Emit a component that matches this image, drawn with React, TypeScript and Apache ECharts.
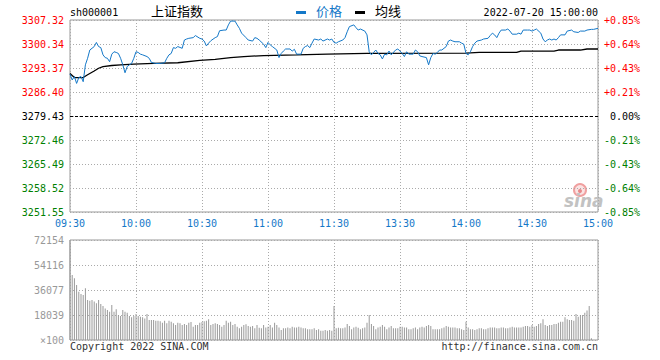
import React, { useEffect, useRef } from 'react';
import * as echarts from 'echarts';

const timeLabels = ['09:30', '10:00', '10:30', '11:00', '11:30', '13:30', '14:00', '14:30', '15:00'];
const priceTicks = ['3251.55', '3258.52', '3265.49', '3272.46', '3279.43', '3286.40', '3293.37', '3300.34', '3307.32'];
const pctTicks = ['-0.85%', '-0.64%', '-0.43%', '-0.21%', '0.00%', '+0.21%', '+0.43%', '+0.64%', '+0.85%'];
const volTicks = ['×100', '18039', '36077', '54116', '72154'];
const prevClose = 3279.43;
const volMax = 72154;

// [minute from 09:30, price]
const pricePoints: [number, number][] = [
  [0, 3291.6], [1, 3289.9], [2, 3290.9], [3, 3288.9], [4, 3290.6], [5, 3290.9], [6, 3289.4], [7, 3294.3], [8, 3296.2], [9, 3298.6],
  [10, 3299.1], [11, 3299.6], [12, 3300.8], [13, 3299.6], [14, 3299.3], [15, 3297.2], [16, 3296.4], [17, 3296.2], [18, 3295.2], [19, 3297.4],
  [20, 3298.1], [21, 3297.9], [22, 3297.6], [23, 3296.2], [24, 3294.3], [25, 3292.0], [26, 3293.8], [27, 3294.3], [28, 3294.7], [29, 3296.2],
  [30, 3298.1], [31, 3297.9], [32, 3297.4], [33, 3297.2], [35, 3296.7], [36, 3296.2], [37, 3295.0], [39, 3294.7], [41, 3294.7], [43, 3294.9],
  [44, 3296.2], [45, 3297.2], [46, 3297.6], [47, 3299.3], [48, 3299.1], [49, 3299.6], [51, 3299.1], [52, 3301.5], [53, 3301.8], [54, 3302.0],
  [56, 3302.2], [57, 3302.8], [59, 3302.0], [60, 3301.8], [61, 3301.2], [62, 3299.8], [63, 3300.6], [64, 3301.3], [66, 3302.2], [67, 3302.5],
  [68, 3304.2], [70, 3304.4], [71, 3304.4], [72, 3305.9], [73, 3307.0], [75, 3307.0], [76, 3305.9], [77, 3304.9], [78, 3303.5], [80, 3302.2],
  [81, 3301.5], [83, 3301.2], [84, 3302.2], [85, 3302.0], [86, 3301.5], [88, 3300.3], [89, 3299.3], [90, 3300.8], [91, 3300.1], [92, 3299.6],
  [94, 3298.6], [95, 3296.4], [96, 3297.6], [97, 3298.3], [98, 3298.9], [100, 3298.9], [101, 3298.3], [102, 3298.8], [103, 3297.4], [105, 3297.4],
  [106, 3299.1], [107, 3299.6], [108, 3299.9], [109, 3299.3], [110, 3300.6], [111, 3301.8], [113, 3301.5], [114, 3301.8], [115, 3301.2], [117, 3301.8],
  [118, 3301.5], [119, 3301.8], [120, 3300.8], [121, 3300.6], [122, 3301.0], [124, 3301.5], [125, 3302.2], [126, 3303.9], [127, 3305.4], [129, 3305.9],
  [130, 3305.1], [131, 3304.4], [132, 3304.7], [134, 3304.1], [135, 3303.0], [136, 3298.1], [137, 3297.2], [138, 3297.9], [139, 3298.6], [140, 3297.6],
  [141, 3297.2], [142, 3296.0], [143, 3297.4], [144, 3297.2], [145, 3298.3], [146, 3297.2], [148, 3298.6], [149, 3298.9], [150, 3298.3], [151, 3297.6],
  [152, 3296.7], [153, 3298.1], [154, 3297.4], [156, 3297.4], [157, 3298.6], [158, 3298.1], [159, 3296.9], [160, 3296.7], [162, 3296.4], [163, 3294.3],
  [164, 3296.4], [165, 3297.6], [166, 3297.4], [167, 3297.9], [168, 3298.6], [169, 3298.6], [171, 3299.6], [172, 3301.2], [173, 3301.5], [174, 3301.2],
  [175, 3301.0], [177, 3301.0], [178, 3300.6], [179, 3300.3], [180, 3297.6], [181, 3297.2], [182, 3298.1], [183, 3299.6], [184, 3300.6], [185, 3301.2],
  [187, 3301.5], [188, 3301.8], [190, 3302.0], [191, 3302.8], [192, 3303.5], [193, 3303.0], [194, 3302.2], [195, 3303.5], [196, 3304.4], [198, 3304.4],
  [199, 3304.7], [200, 3304.1], [201, 3303.2], [203, 3303.2], [204, 3303.5], [205, 3303.2], [206, 3304.4], [208, 3304.4], [209, 3304.4], [210, 3304.1],
  [211, 3304.4], [212, 3304.7], [214, 3303.5], [215, 3301.8], [216, 3301.0], [217, 3301.5], [218, 3301.8], [219, 3301.5], [220, 3301.8], [221, 3301.5],
  [222, 3302.2], [223, 3303.0], [225, 3303.0], [226, 3304.1], [228, 3304.4], [229, 3303.9], [231, 3303.7], [232, 3304.1], [234, 3304.1], [235, 3304.4],
  [237, 3304.6], [238, 3304.6], [240, 3304.9],
];

// [minute, average price]
const avgPoints: [number, number][] = [
  [0, 3291.8], [2, 3290.6], [6, 3290.6], [8, 3291.4], [11, 3292.5], [13, 3293.3], [15, 3293.8], [19, 3294.1], [23, 3294.3], [29, 3294.5],
  [38, 3294.7], [49, 3294.9], [59, 3295.6], [66, 3295.9], [73, 3296.4], [79, 3296.7], [88, 3297.0], [103, 3297.2], [117, 3297.4], [135, 3297.6],
  [180, 3297.7], [186, 3297.9], [203, 3297.9], [205, 3298.3], [220, 3298.3], [222, 3298.6], [232, 3298.6], [235, 3298.9], [240, 3298.9],
];

// volume per minute (x100)
const volumes: number[] = [
  72154, 46900, 44500, 39700, 34900, 33200, 32500, 37300, 28900, 28400,
  28900, 27700, 26500, 28900, 26000, 24500, 22800, 21600, 20400, 25300,
  20400, 22100, 18000, 17300, 21600, 20400, 19700, 17300, 16400, 17300,
  18800, 17300, 16800, 16400, 15600, 18800, 14400, 14400, 14400, 13900,
  13900, 13500, 12500, 13900, 12000, 13900, 13200, 12000, 10800, 12500,
  12000, 10800, 11500, 10800, 12500, 13000, 9600, 10800, 10800, 12500,
  13000, 13500, 13900, 14900, 10800, 11500, 12000, 11500, 10800, 9600,
  10800, 13900, 12500, 13200, 10800, 11500, 9600, 8400, 9600, 10800,
  11300, 10100, 9600, 10100, 8400, 10800, 8900, 8400, 10800, 9100,
  9600, 10800, 9100, 12500, 10800, 9100, 7200, 8400, 8400, 9100,
  8400, 9600, 9100, 9100, 9600, 9100, 8400, 8400, 7700, 7700,
  7700, 8400, 7200, 7700, 6700, 6700, 7200, 6700, 7200, 6700,
  24500, 8400, 8900, 8400, 8400, 9100, 11500, 10100, 7700, 9100,
  9600, 8900, 7700, 8400, 9100, 12500, 18000, 11500, 10100, 7700,
  9100, 9600, 10800, 9600, 7700, 9100, 10100, 8400, 8400, 8400,
  9600, 9600, 9100, 9100, 7700, 7700, 8400, 9100, 7700, 9100,
  9600, 9100, 10100, 10800, 10100, 7700, 7700, 7700, 7700, 8400,
  9100, 10100, 9600, 9100, 9100, 9100, 8400, 8400, 7700, 7200,
  13200, 9100, 7700, 7700, 7200, 7700, 8400, 8400, 7700, 7700,
  8400, 9100, 9100, 9100, 8400, 8400, 9100, 9100, 8400, 8400,
  9100, 9600, 9100, 9100, 9100, 9100, 9600, 10100, 10100, 9600,
  10800, 9600, 10100, 11500, 12000, 14900, 10800, 10100, 10800, 10800,
  11500, 11500, 12500, 13200, 13200, 16400, 14900, 14400, 14400, 13900,
  18800, 16800, 18000, 18000, 19700, 21200, 24500, 1200, 0, 0,
  0,
];

const MONO = '"DejaVu Sans Mono", "Liberation Mono", monospace';
const CJK = '"Noto Sans CJK SC", sans-serif';
const BLUE = '#1478c8';
const GRID_LINE = { color: '#aaa', type: [1, 2] as number[], width: 1 };

export default function App() {
  const ref = useRef<HTMLDivElement>(null);

  useEffect(() => {
    if (!ref.current) return;
    const chart = echarts.init(ref.current, undefined, { renderer: 'svg' });
    const pMin = Number(priceTicks[0]);
    const pMax = Number(priceTicks[priceTicks.length - 1]);
    const range = pMax - pMin;
    const step = range / (priceTicks.length - 1);
    const vStep = volMax / (volTicks.length - 1);

    const idxOf = (v: number) => Math.round(v / step);
    const styleOf = (i: number) => (i > 4 ? 'up' : i < 4 ? 'dn' : 'eq');
    const rich = {
      up: { color: '#ff0000', fontFamily: MONO, fontSize: 10 },
      dn: { color: '#008000', fontFamily: MONO, fontSize: 10 },
      eq: { color: '#000000', fontFamily: MONO, fontSize: 10 },
    };

    const option: any = {
      animation: false,
      backgroundColor: '#fff',
      grid: [
        { left: 70, top: 20, width: 528, height: 192, show: true, borderColor: '#999', borderWidth: 1 },
        { left: 70, top: 240, width: 528, height: 100, show: true, borderColor: '#999', borderWidth: 1 },
      ],
      xAxis: [
        {
          gridIndex: 0, type: 'value', min: 0, max: 240, interval: 30,
          axisLine: { show: false }, axisTick: { show: false },
          axisLabel: {
            margin: 6, fontFamily: MONO, fontSize: 10, color: BLUE,
            formatter: (v: number) => timeLabels[Math.round(v / 30)] ?? '',
          },
          splitLine: { show: true, lineStyle: GRID_LINE },
        },
        {
          gridIndex: 1, type: 'value', min: 0, max: 240, interval: 30,
          axisLine: { show: false }, axisTick: { show: false },
          axisLabel: { show: false },
          splitLine: { show: true, lineStyle: GRID_LINE },
        },
      ],
      yAxis: [
        {
          gridIndex: 0, type: 'value', min: 0, max: range, interval: step,
          axisLine: { show: false }, axisTick: { show: false },
          splitLine: { show: true, lineStyle: GRID_LINE },
          axisLabel: {
            margin: 6, fontFamily: MONO, fontSize: 10,
            formatter: (v: number) => {
              const i = idxOf(v);
              return `{${styleOf(i)}|${priceTicks[i] ?? ''}}`;
            },
            rich,
          },
        },
        {
          gridIndex: 0, type: 'value', position: 'right', min: 0, max: range, interval: step,
          axisLine: { show: false }, axisTick: { show: false },
          splitLine: { show: false },
          axisLabel: {
            margin: 42, align: 'right', fontFamily: MONO, fontSize: 10,
            formatter: (v: number) => {
              const i = idxOf(v);
              return `{${styleOf(i)}|${pctTicks[i] ?? ''}}`;
            },
            rich,
          },
        },
        {
          gridIndex: 1, type: 'value', min: 0, max: volMax, interval: vStep,
          axisLine: { show: false }, axisTick: { show: false },
          splitLine: { show: true, lineStyle: GRID_LINE },
          axisLabel: {
            margin: 6, fontFamily: MONO, fontSize: 10, color: '#999',
            formatter: (v: number) => volTicks[Math.round(v / vStep)] ?? '',
          },
        },
      ],
      series: [
        {
          name: '价格', type: 'line', xAxisIndex: 0, yAxisIndex: 0,
          data: pricePoints.map(([m, p]) => [m, p - pMin]),
          showSymbol: false, symbol: 'none',
          lineStyle: { color: BLUE, width: 1 },
          itemStyle: { color: BLUE },
          z: 3,
          markLine: {
            silent: true, symbol: 'none', label: { show: false },
            lineStyle: { color: '#000', type: [3, 2], width: 1 },
            data: [{ yAxis: prevClose - pMin }],
          },
        },
        {
          name: '均线', type: 'line', xAxisIndex: 0, yAxisIndex: 0,
          data: avgPoints.map(([m, p]) => [m, p - pMin]),
          showSymbol: false, symbol: 'none',
          lineStyle: { color: '#000', width: 1.3 },
          z: 2,
        },
        {
          name: 'volume', type: 'bar', xAxisIndex: 1, yAxisIndex: 2,
          data: volumes.map((v, i) => [i, v]),
          barWidth: 1,
          itemStyle: { color: '#999' },
        },
      ],
      graphic: [
        { type: 'text', left: 70, top: 7, style: { text: 'sh000001', font: `10px ${MONO}`, fill: '#000' } },
        { type: 'text', left: 151, top: 4, style: { text: '上证指数', font: `13px ${CJK}`, fill: '#000' } },
        { type: 'rect', shape: { x: 296, y: 11, width: 10, height: 3 }, style: { fill: BLUE } },
        { type: 'text', left: 316, top: 4, style: { text: '价格', font: `13px ${CJK}`, fill: BLUE } },
        { type: 'rect', shape: { x: 355, y: 11, width: 10, height: 3 }, style: { fill: '#000' } },
        { type: 'text', left: 375, top: 4, style: { text: '均线', font: `13px ${CJK}`, fill: '#000' } },
        { type: 'text', right: 62, top: 7, style: { text: '2022-07-20 15:00:00', font: `10px ${MONO}`, fill: '#000' } },
        { type: 'text', left: 70, top: 341, style: { text: 'Copyright 2022 SINA.COM', font: `10px ${MONO}`, fill: '#333' } },
        { type: 'text', right: 62, top: 341, style: { text: 'http://finance.sina.com.cn', font: `10px ${MONO}`, fill: '#333' } },
        { type: 'circle', shape: { cx: 580, cy: 190, r: 6 }, style: { fill: '#fbe3e3', stroke: '#f0a0a0', lineWidth: 2 } },
        { type: 'circle', shape: { cx: 580, cy: 191, r: 2 }, style: { fill: '#e88a8a' } },
        { type: 'text', left: 564, top: 192, style: { text: 'sina', font: `italic bold 17px "DejaVu Sans", sans-serif`, fill: '#c2c2c2' } },
      ],
    };
    chart.setOption(option);
    return () => chart.dispose();
  }, []);

  return (
    <div
      ref={ref}
      style={{ position: 'absolute', left: 0, top: 0, width: 660, height: 360, background: '#fff' }}
    />
  );
}
